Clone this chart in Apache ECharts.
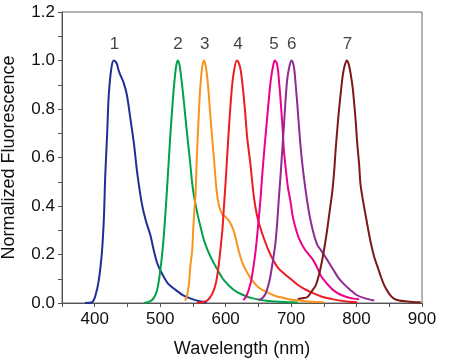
<!DOCTYPE html>
<html>
<head>
<meta charset="utf-8">
<script src="https://cdn.jsdelivr.net/npm/echarts@6/dist/echarts.min.js"></script>
<style>html,body{margin:0;padding:0;background:#fff}#chart{width:450px;height:364px}</style>
</head>
<body>
<div id="chart"></div>
<script>
// Wavelength (nm) vs normalized fluorescence, pairs [nm, value]
var curve1 = [[385,0],[396,0.003],[401,0.03],[406,0.09],[411,0.21],[414,0.35],[416,0.52],[419,0.70],[421.5,0.86],[425.5,0.97],[429,1.0],[432,0.995],[434,0.985],[437,0.955],[440,0.935],[444,0.91],[449,0.86],[454,0.77],[460,0.655],[465,0.535],[472,0.41],[478,0.34],[485,0.28],[490,0.22],[496,0.16],[505,0.11],[512,0.08],[523,0.055],[536,0.03],[550,0.015],[560,0.007],[571,0.002]];
var curve2 = [[475,0],[485,0.008],[490,0.02],[495,0.05],[500,0.13],[505,0.26],[510,0.45],[515,0.67],[520,0.86],[524,0.97],[527,1.0],[530,0.975],[533,0.91],[536,0.835],[541,0.70],[545,0.60],[550,0.47],[556,0.38],[562,0.31],[568,0.25],[577,0.19],[587,0.14],[597,0.095],[612,0.055],[625,0.035],[640,0.02],[665,0.008],[700,0.003],[710,0.002]];
var curve3 = [[538,0.01],[541,0.03],[544,0.08],[546,0.15],[549,0.22],[551,0.33],[554,0.45],[556,0.6],[559,0.78],[561,0.88],[564,0.97],[567,1.0],[570,0.97],[573,0.90],[577,0.76],[582,0.6],[586,0.47],[590,0.40],[595,0.365],[600,0.355],[605,0.34],[608,0.325],[612,0.30],[616,0.26],[620,0.215],[625,0.17],[632,0.13],[640,0.095],[650,0.065],[663,0.045],[675,0.03],[690,0.02],[705,0.012],[725,0.006],[750,0.003]];
var curve4 = [[556,0],[565,0.004],[572,0.01],[579,0.035],[584,0.07],[587,0.11],[590,0.17],[592,0.22],[595,0.3],[597,0.38],[600,0.5],[602,0.59],[605,0.72],[607,0.8],[610,0.9],[613,0.96],[617,1.0],[620,0.99],[623,0.96],[627,0.87],[630,0.78],[633,0.68],[638,0.57],[643,0.44],[648,0.36],[653,0.31],[658,0.27],[665,0.22],[673,0.175],[680,0.145],[690,0.12],[699,0.10],[710,0.075],[720,0.058],[730,0.045],[745,0.028],[765,0.015],[785,0.006],[801,0.003]];
var curve5 = [[627,0.012],[632,0.03],[638,0.08],[642,0.14],[646,0.22],[650,0.33],[653,0.42],[656,0.53],[659,0.63],[663,0.75],[666,0.84],[669,0.92],[672,0.97],[675,1.0],[678,0.99],[680,0.96],[682,0.9],[684,0.835],[687,0.72],[689,0.63],[692,0.55],[695,0.48],[699,0.42],[703,0.35],[709,0.29],[714,0.255],[720,0.225],[727,0.2],[733,0.18],[740,0.145],[745,0.115],[750,0.095],[758,0.07],[766,0.05],[775,0.035],[786,0.024],[795,0.018],[804,0.015]];
var curve6 = [[650,0.012],[656,0.02],[661,0.038],[665,0.07],[668,0.105],[672,0.17],[676,0.245],[679,0.34],[681,0.42],[684,0.53],[686.5,0.63],[689,0.73],[691.5,0.835],[694,0.92],[697,0.97],[700.5,1.0],[703,0.99],[705,0.96],[707,0.9],[709.5,0.82],[712,0.73],[715,0.63],[719,0.53],[724,0.43],[729,0.35],[735,0.28],[740,0.24],[745,0.22],[750,0.2],[757,0.17],[765,0.135],[772,0.105],[780,0.08],[790,0.055],[800,0.033],[812,0.02],[827,0.01]];
var curve7 = [[710,0.017],[718,0.02],[725,0.025],[732,0.05],[738,0.075],[743,0.12],[747,0.17],[751,0.23],[755,0.3],[759,0.38],[763,0.46],[766,0.55],[768,0.63],[771,0.73],[773,0.79],[776,0.87],[779,0.94],[782,0.98],[785,1.0],[788,0.985],[791,0.945],[794,0.89],[796,0.835],[799,0.74],[801,0.66],[804,0.57],[806,0.49],[810,0.42],[814,0.36],[818,0.30],[822,0.245],[827,0.19],[832,0.15],[837,0.11],[842,0.075],[847,0.05],[852,0.03],[857,0.018],[865,0.01],[878,0.006],[890,0.003],[898,0.003]];

var curveNames = ['1','2','3','4','5','6','7'];
var curveColors = ['#1f2f96','#00a14b','#f7941d','#ed1c24','#ec008c','#8e2a92','#7d1818'];
var peakLabelX = [430,527,568,619,674,701,786];
var peakLabelY = [1.065,1.065,1.065,1.065,1.065,1.065,1.065];
var xTickLabels = ['400','500','600','700','800','900'];
var yTickLabels = ['0.0','0.2','0.4','0.6','0.8','1.0','1.2'];

var curves = [curve1,curve2,curve3,curve4,curve5,curve6,curve7];
var FONT = "'Liberation Sans', Arial, sans-serif";

var series = curves.map(function(c, i){
  return {
    type:'line', name: curveNames[i], data: c, showSymbol:false, symbol:'none',
    smooth:0.3, lineStyle:{color:curveColors[i], width:2}, z:2
  };
});
series.push({
  type:'scatter', symbolSize:0,
  data: peakLabelX.map(function(x,i){ return [x, peakLabelY[i], curveNames[i]]; }),
  label:{show:true, position:'inside', formatter:function(p){return p.value[2];}, color:'#111', fontSize:17, fontFamily:FONT},
  z:3
});

var chart = echarts.init(document.getElementById('chart'), null, {renderer:'canvas'});
chart.setOption({
  animation:false,
  backgroundColor:'#fff',
  grid:{left:62, right:28, top:12, bottom:61, containLabel:false, outerBoundsMode:'none',
        show:true, borderColor:'#666', borderWidth:1, backgroundColor:'transparent'},
  xAxis:{
    type:'value', min:350, max:900, interval:50,
    name:'Wavelength (nm)', nameLocation:'middle', nameGap:37,
    nameTextStyle:{fontSize:18, color:'#111', fontFamily:FONT},
    axisLine:{show:true, lineStyle:{color:'#555', width:1}},
    axisTick:{show:true, inside:false, length:4, lineStyle:{color:'#555'}},
    splitLine:{show:false},
    axisLabel:{margin:8, fontSize:17, color:'#111', fontFamily:FONT,
      formatter:function(v){ var s=String(Math.round(v)); return xTickLabels.indexOf(s)>=0 ? s : ''; }}
  },
  yAxis:{
    type:'value', min:0, max:1.2, interval:0.1,
    name:'Normalized Fluorescence', nameLocation:'middle', nameGap:44, nameRotate:90,
    nameTextStyle:{fontSize:18, color:'#111', fontFamily:FONT},
    axisLine:{show:true, lineStyle:{color:'#555', width:1}},
    axisTick:{show:true, inside:false, length:4, lineStyle:{color:'#555'}},
    splitLine:{show:false},
    axisLabel:{margin:7, fontSize:17, color:'#111', fontFamily:FONT,
      formatter:function(v){ var s=(Math.round(v*10)/10).toFixed(1); return yTickLabels.indexOf(s)>=0 && Math.round(v*10)%2===0 ? s : ''; }}
  },
  series: series
});
</script>
</body>
</html>
